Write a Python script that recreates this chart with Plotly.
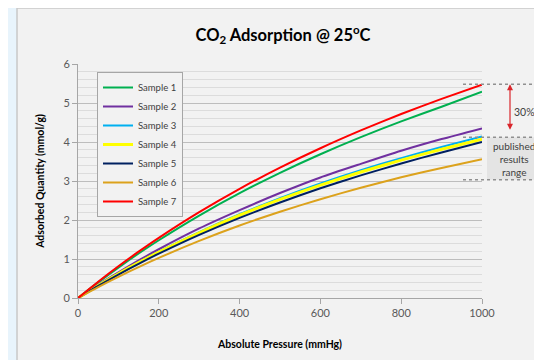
import plotly.graph_objects as go

pressure = [0, 50, 100, 150, 200, 300, 400, 500, 600, 700, 800, 900, 1000]
sample1 = [0, 0.401, 0.780, 1.140, 1.481, 2.113, 2.687, 3.209, 3.686, 4.125, 4.530, 4.903, 5.29]
sample2 = [0, 0.345, 0.659, 0.962, 1.250, 1.783, 2.253, 2.691, 3.091, 3.438, 3.775, 4.075, 4.35]
sample3 = [0, 0.322, 0.626, 0.915, 1.188, 1.690, 2.147, 2.561, 2.938, 3.279, 3.586, 3.871, 4.14]
sample4 = [0, 0.320, 0.622, 0.906, 1.176, 1.673, 2.122, 2.527, 2.895, 3.231, 3.535, 3.815, 4.07]
sample5 = [0, 0.309, 0.602, 0.877, 1.136, 1.618, 2.054, 2.450, 2.815, 3.145, 3.450, 3.733, 4.00]
sample6 = [0, 0.280, 0.543, 0.792, 1.028, 1.464, 1.859, 2.213, 2.534, 2.827, 3.096, 3.335, 3.56]
sample7 = [0, 0.418, 0.813, 1.188, 1.543, 2.201, 2.799, 3.343, 3.840, 4.297, 4.719, 5.107, 5.47]

names = ["Sample 1", "Sample 2", "Sample 3", "Sample 4", "Sample 5", "Sample 6", "Sample 7"]
series = [sample1, sample2, sample3, sample4, sample5, sample6, sample7]
colors = ["#00b050", "#7030a0", "#00b0f0", "#ffff00", "#002060", "#dca21c", "#ff0000"]
widths = [2, 2, 2, 3, 2, 2, 2]

range_top = 5.48
range_mid = 4.12
range_bottom = 3.03

# page offset of the figure (body margin)
OFF = 8
W, H = 542, 360
L, T = 78 - OFF, 64 - OFF
pw, ph = 404, 234
R = W - L - pw
B = H - T - ph

def px(x):
    return (x - OFF - L) / pw

def py(y):
    return (H - B - (y - OFF)) / ph

fig = go.Figure()
for n, s, c, w in zip(names, series, colors, widths):
    fig.add_trace(go.Scatter(x=pressure, y=s, name=n, mode="lines",
                             line=dict(color=c, width=w, shape="spline", smoothing=0.6)))

shapes = [
    dict(type="rect", xref="paper", yref="paper", x0=px(17), x1=px(600), y0=py(8), y1=py(420),
         fillcolor="#f2f2f2", line=dict(color="#c8c8c8", width=1.5), layer="below"),
    dict(type="rect", xref="paper", yref="y", x0=px(487), x1=px(600), y0=range_bottom, y1=range_mid,
         fillcolor="#e4e4e4", line=dict(width=0), layer="above"),
]
for yv in [range_top, range_mid, range_bottom]:
    shapes.append(dict(type="line", xref="paper", yref="y", x0=px(463), x1=px(600), y0=yv, y1=yv,
                       line=dict(color="#909090", width=1.5, dash="dot")))

annotations = [
    dict(xref="paper", yref="y", x=px(510), y=range_top, ax=0, ay=(range_top - range_mid) * ph / 6,
         axref="pixel", ayref="pixel", showarrow=True, arrowhead=2, startarrowhead=2,
         arrowside="end+start", arrowcolor="#d9262c", arrowwidth=1.2, arrowsize=1, text=" ",
         font=dict(size=10)),
    dict(xref="paper", yref="y", x=px(524), y=4.78, xanchor="center", yanchor="middle",
         text="30%", showarrow=False,
         font=dict(size=10.5, color="#404040", family="Lato")),
    dict(xref="paper", yref="y", x=px(514), y=(range_mid + range_bottom) / 2,
         xanchor="center", yanchor="middle",
         text="published<br>results<br>range", showarrow=False,
         font=dict(size=10, color="#404040", family="Lato")),
]

fig.update_layout(
    width=W, height=H,
    margin=dict(l=L, r=R, t=T, b=B),
    paper_bgcolor="#e8f4fc",
    plot_bgcolor="#f2f2f2",
    font=dict(family="Lato", size=11, color="#595959"),
    title=dict(text="<b>CO<sub>2</sub> Adsorption @ 25<sup>o</sup>C</b>", x=px(283), xanchor="center",
               y=1 - (35 - OFF) / H, yanchor="middle",
               font=dict(size=16.5, color="#000000", family="Lato")),
    xaxis=dict(range=[0, 1000], dtick=200, showgrid=False, zeroline=False, showline=True,
               linecolor="#a6a6a6", linewidth=1, ticks="outside", ticklen=5, tickcolor="#a6a6a6",
               title=dict(text="<b>Absolute Pressure (mmHg)</b>", font=dict(size=10.5, color="#000000"),
                          standoff=22)),
    yaxis=dict(range=[0, 6], dtick=1, showgrid=True, gridcolor="#bdbdbd", gridwidth=1, zeroline=False,
               showline=True, linecolor="#a6a6a6", linewidth=1, ticks="outside", ticklen=5,
               tickcolor="#a6a6a6",
               minor=dict(dtick=0.2, showgrid=True, gridcolor="#dcdcdc", gridwidth=1),
               title=dict(text="<b>Adsorbed Quantity (mmol/g)</b>", font=dict(size=10.5, color="#000000"),
                          standoff=16)),
    legend=dict(x=px(97), y=py(72), xanchor="left", yanchor="top", bgcolor="#f2f2f2",
                bordercolor="#a6a6a6", borderwidth=1, font=dict(size=9.5, color="#404040"),
                itemwidth=30, tracegroupgap=0),
    shapes=shapes,
    annotations=annotations,
)

fig.write_html("out.html")
